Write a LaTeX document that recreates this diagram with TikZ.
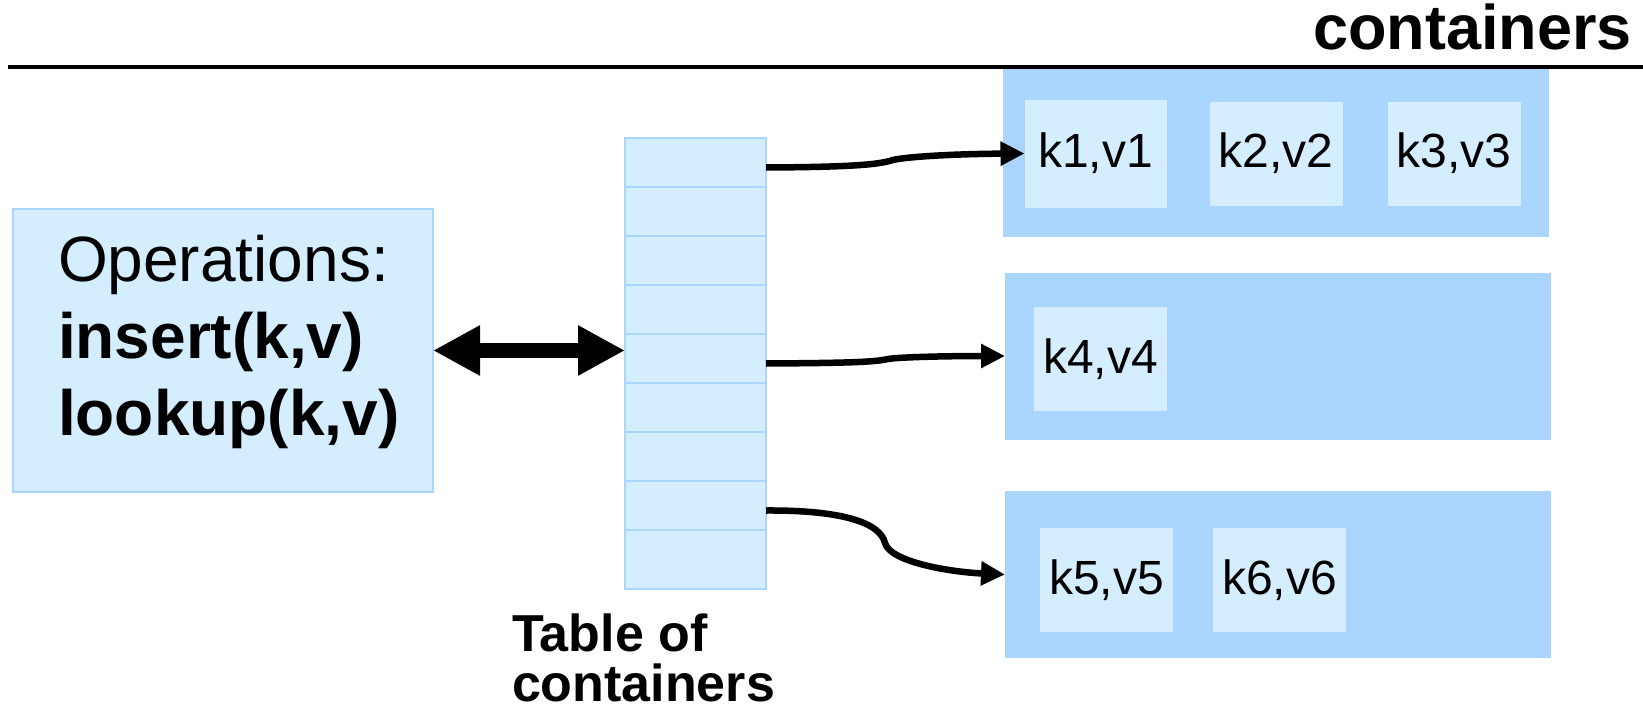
\documentclass[tikz,border=0pt]{standalone}
\usepackage{fontspec}
\setmainfont{Liberation Sans}
\usetikzlibrary{positioning,arrows.meta}
\definecolor{contblue}{RGB}{170,213,255}
\definecolor{cellblue}{RGB}{213,238,255}

\begin{document}
\begin{tikzpicture}[x=1pt,y=-1pt]
	\tikzstyle{every node}=[font=\fontsize{48}{56}\selectfont, inner sep=0pt, outer sep=0pt]
	\tikzstyle{cell}=[draw=contblue, line width=2.5pt, fill=cellblue, minimum width=141pt, minimum height=49pt]
	\tikzstyle{cont}=[fill=contblue, minimum width=546pt, minimum height=167pt]
	\tikzstyle{kv}=[fill=cellblue, minimum width=133pt, minimum height=104pt]
	\tikzstyle{link}=[draw, line width=6.5pt, -{Triangle[length=24pt,width=23pt]}]

	\useasboundingbox (0,0) rectangle (1643,717);

	% heading
	\node[anchor=base east, font=\fontsize{63}{70}\selectfont\bfseries] (title) at (1632,50) {containers};
	\draw[line width=3.5pt] (8,67) -- (1643,67);

	% operations
	\node[cell, line width=2pt, minimum width=420pt, minimum height=283pt, text width=330pt, align=left, font=\fontsize{64}{77}\selectfont] (ops) at (223,350.5)
	{Operations:\\\textbf{insert(k,v)}\\\textbf{lookup(k,v)}\rule[-31pt]{0pt}{0pt}};

	% table
	\node[cell] (t1) at (695.5,162.5) {};
	\node[cell, below=0pt of t1] (t2) {};
	\node[cell, below=0pt of t2] (t3) {};
	\node[cell, below=0pt of t3] (t4) {};
	\node[cell, below=0pt of t4] (t5) {};
	\node[cell, below=0pt of t5] (t6) {};
	\node[cell, below=0pt of t6] (t7) {};
	\node[cell, below=0pt of t7] (t8) {};
	\node[cell, below=0pt of t8, minimum height=59pt] (t9) {};
	\node[anchor=north west, align=left, font=\fontsize{52}{50}\selectfont\bfseries] (tablbl) at (512,614) {Table of\\containers};

	\draw[{Triangle[length=47pt,width=47pt]}-{Triangle[length=47pt,width=47pt]}, line width=15pt] (ops.east) -- (ops.east -| t5.west);

	% containers
	\node[cont] (c1) at (1275.5,153) {};
	\node[cont] (c2) at (1278,356) {};
	\node[cont] (c3) at (1278,574.5) {};
	\node[kv, minimum width=142pt, minimum height=108pt] (kv1) at (1095.5,153.5) {k1,v1};
	\node[kv, right=43pt of kv1] (kv2) {k2,v2};
	\node[kv, right=45pt of kv2] (kv3) {k3,v3};
	\node[kv] (kv4) at (1100.5,359) {k4,v4};
	\node[kv] (kv5) at (1106.5,580) {k5,v5};
	\node[kv, right=40pt of kv5] (kv6) {k6,v6};

	% links
	\draw[link] ([yshift=-5pt]t1.east) .. controls (860,167) and (880,164) .. (893,160) .. controls (905,157) and (950,154) .. (kv1.west);
	\draw[link] ([yshift=-5pt]t5.east) .. controls (850,363) and (875,362) .. (888,359) .. controls (900,357) and (950,356) .. (c2.west);
	\draw[link] ([yshift=-5pt]t8.east) .. controls (840,510) and (880,522) .. (885,543) .. controls (890,562) and (950,572) .. (c3.west);
\end{tikzpicture}
\end{document}
